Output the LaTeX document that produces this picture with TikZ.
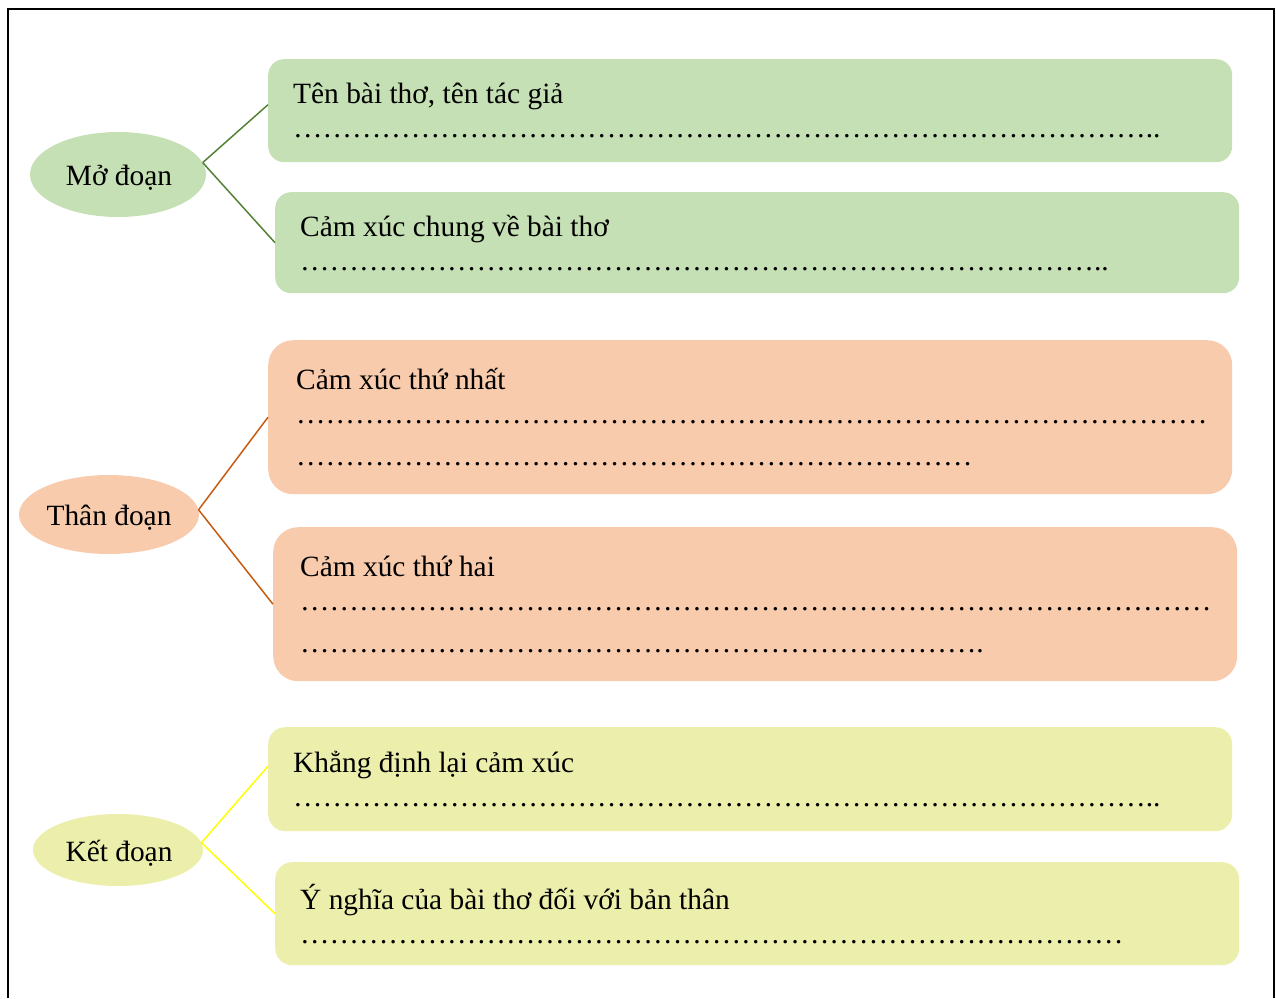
\documentclass[tikz,border=0pt]{standalone}
\usepackage{fontspec}
\setmainfont{Liberation Serif}
\usetikzlibrary{shapes.geometric}
\definecolor{greenfill}{HTML}{C5E0B4}
\definecolor{greenline}{HTML}{548235}
\definecolor{orangefill}{HTML}{F8CBAD}
\definecolor{orangeline}{HTML}{C55A11}
\definecolor{yellowfill}{HTML}{ECEFAB}
\definecolor{yellowline}{HTML}{FFFF00}
\newcommand\dotrow[1]{\foreach\k in {1,...,#1}{…}}

\begin{document}
\begin{tikzpicture}[x=1pt,y=-1pt,
  every node/.style={font=\fontsize{29.4}{34}\selectfont},
  part/.style={ellipse,inner sep=0pt,text height=27pt,text depth=5pt},
  box/.style={anchor=north west,inner xsep=25pt,inner ysep=0pt,text width=914pt,align=flush left},
  link/.style={line width=1.5pt}]
\useasboundingbox (0,0) rectangle (1276,998);
\draw[line width=2pt] (7.5,998) -- (7.5,9) -- (1274,9) -- (1274,998);

% mo doan
\node[part,fill=greenfill,minimum width=176pt,minimum height=85pt] (mo) at (118,174.5) {\hspace*{2pt}Mở đoạn};
\node[box,fill=greenfill,rounded corners=16pt,minimum height=103pt] (ten) at (268,59) {Tên bài thơ, tên tác giả\\\dotrow{29}..};
\node[box,fill=greenfill,rounded corners=16pt,minimum height=101pt] (chung) at (275,192) {Cảm xúc chung về bài thơ\\\dotrow{27}..};
\draw[link,greenline] (mo.8) -- ([yshift=6pt]ten.west);
\draw[link,greenline] (mo.8) -- (chung.west);

% than doan
\node[part,fill=orangefill,minimum width=180pt,minimum height=79pt] (than) at (109,514.5) {Thân đoạn};
\node[box,fill=orangefill,rounded corners=25pt,minimum height=154pt] (nhat) at (268,340) {\hspace*{3pt}Cảm xúc thứ nhất\\\hspace*{3pt}\dotrow{31}\\[8pt]\hspace*{3pt}\dotrow{23}};
\node[box,fill=orangefill,rounded corners=25pt,minimum height=154pt] (hai) at (273,527) {\hspace*{2pt}Cảm xúc thứ hai\\\hspace*{2pt}\dotrow{31}\\[8pt]\hspace*{2pt}\dotrow{23}.};
\draw[link,orangeline] (than.3) -- (nhat.west);
\draw[link,orangeline] (than.3) -- (hai.west);

% ket doan
\node[part,fill=yellowfill,minimum width=170pt,minimum height=72pt] (ket) at (118,850) {\hspace*{2pt}Kết đoạn};
\node[box,fill=yellowfill,rounded corners=17pt,minimum height=104pt] (khang) at (268,727) {Khẳng định lại cảm xúc\\\dotrow{29}..};
\node[box,fill=yellowfill,rounded corners=17pt,minimum height=103pt] (nghia) at (275,862) {Ý nghĩa của bài thơ đối với bản thân\\\dotrow{28}};
\draw[link,yellowline] (ket.5) -- ([yshift=13pt]khang.west);
\draw[link,yellowline] (ket.5) -- (nghia.west);
\end{tikzpicture}
\end{document}
